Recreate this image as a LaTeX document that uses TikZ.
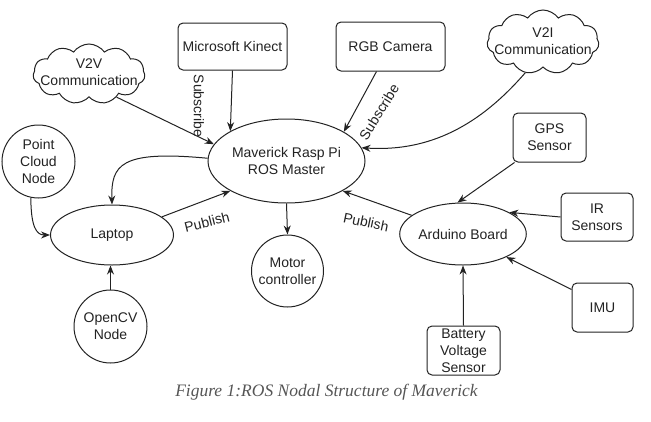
\documentclass[tikz,border=0pt]{standalone}
\usepackage{fontspec}
\setmainfont{Liberation Sans}
\newfontfamily\capfont{Liberation Serif}
\usetikzlibrary{shapes.geometric,shapes.symbols,arrows.meta}
\definecolor{ink}{HTML}{222222}
\definecolor{capgray}{HTML}{555555}
\tikzset{
  lbl/.style={font=\fontsize{14}{17}\selectfont, text=ink, align=center, inner sep=0pt},
  boxnode/.style={lbl, draw=ink, line width=1pt, rounded corners=5pt},
  ellnode/.style={lbl, draw=ink, line width=1pt, ellipse},
  circnode/.style={lbl, draw=ink, line width=1pt, circle},
  cloudnode/.style={draw=ink, line width=1pt, cloud, cloud puffs=11, cloud puff arc=110, cloud ignores aspect, inner sep=0pt},
  arr/.style={draw=ink, line width=1pt, -{Stealth[length=9pt,width=7pt]}},
}
\begin{document}
\begin{tikzpicture}[x=1pt,y=-1pt]
\useasboundingbox (0,0) rectangle (651,421);
% nodes
\node[boxnode, minimum width=109pt, minimum height=47pt] (kinect) at (232.5,46.5) {Microsoft Kinect};
\node[boxnode, minimum width=109pt, minimum height=49pt] (rgb) at (390.5,46.5) {RGB Camera};
\node[cloudnode, minimum width=112pt, minimum height=60pt] (v2v) at (89,74) {};
\node[lbl] (v2vt) at (89,72) {V2V\\Communication};
\node[cloudnode, minimum width=112pt, minimum height=64pt] (v2i) at (543,42) {};
\node[lbl] (v2it) at (543,41) {V2I\\Communication};
\node[ellnode, minimum width=157pt, minimum height=84pt] (mav) at (286.5,161) {Maverick Rasp Pi\\ROS Master};
\node[circnode, minimum size=73pt] (pc) at (38.5,161.5) {Point\\Cloud\\Node};
\node[ellnode, minimum width=123pt, minimum height=60pt] (laptop) at (112,235) {Laptop};
\node[circnode, minimum size=73pt] (opencv) at (110.5,326.5) {OpenCV\\Node};
\node[circnode, minimum size=72pt] (motor) at (287.5,271) {Motor\\controller};
\node[boxnode, minimum width=73pt, minimum height=49pt] (gps) at (549.5,137.5) {GPS\\Sensor};
\node[boxnode, minimum width=72pt, minimum height=48pt] (ir) at (597,217) {IR\\Sensors};
\node[boxnode, minimum width=61pt, minimum height=49pt] (imu) at (602.5,307.5) {IMU};
\node[boxnode, minimum width=73pt, minimum height=49pt] (batt) at (463.5,350.5) {Battery\\Voltage\\Sensor};
\node[ellnode, minimum width=122pt, minimum height=62pt] (ard) at (463,234) {Arduino Board};
% edge labels
\node[lbl, rotate=-90] (sub1) at (199,106) {Subscribe};
\node[lbl, rotate=58] (sub2) at (379,112) {Subscribe};
\node[lbl, rotate=14] (pub1) at (207,222) {Publish};
\node[lbl, rotate=-12] (pub2) at (366,222) {Publish};
% connectors
\draw[arr] (kinect.south) -- (mav.152);
\draw[arr] ([xshift=-14pt]rgb.south) -- (mav.27);
\draw[arr] (v2v.-40) -- (mav.167);
\draw[arr] (v2i.-120) .. controls (480,125) and (430,152) .. (mav.10);
\draw[arr] (mav.178) .. controls (120,150) and (111,165) .. (laptop.north);
\draw[arr] (pc.258) .. controls (31,226) and (36,235) .. (laptop.west);
\draw[arr] (opencv.north) -- (opencv.north |- laptop.south);
\draw[arr] (laptop.20) -- (mav.208);
\draw[arr] (mav.south) -- (motor.north);
\draw[arr] (ard.160) -- (mav.332);
\draw[arr] ([xshift=2pt]gps.south west) -- (ard.100);
\draw[arr] (ir.west) -- (ard.25);
\draw[arr] ([yshift=-7pt]imu.north west) -- (ard.332);
\draw[arr] (batt.north) -- (ard.south);
% caption
\node[font=\capfont\itshape\fontsize{17.5}{20}\selectfont, text=capgray, inner sep=0pt] (cap) at (326.5,392) {Figure 1:ROS Nodal Structure of Maverick};
\end{tikzpicture}
\end{document}
